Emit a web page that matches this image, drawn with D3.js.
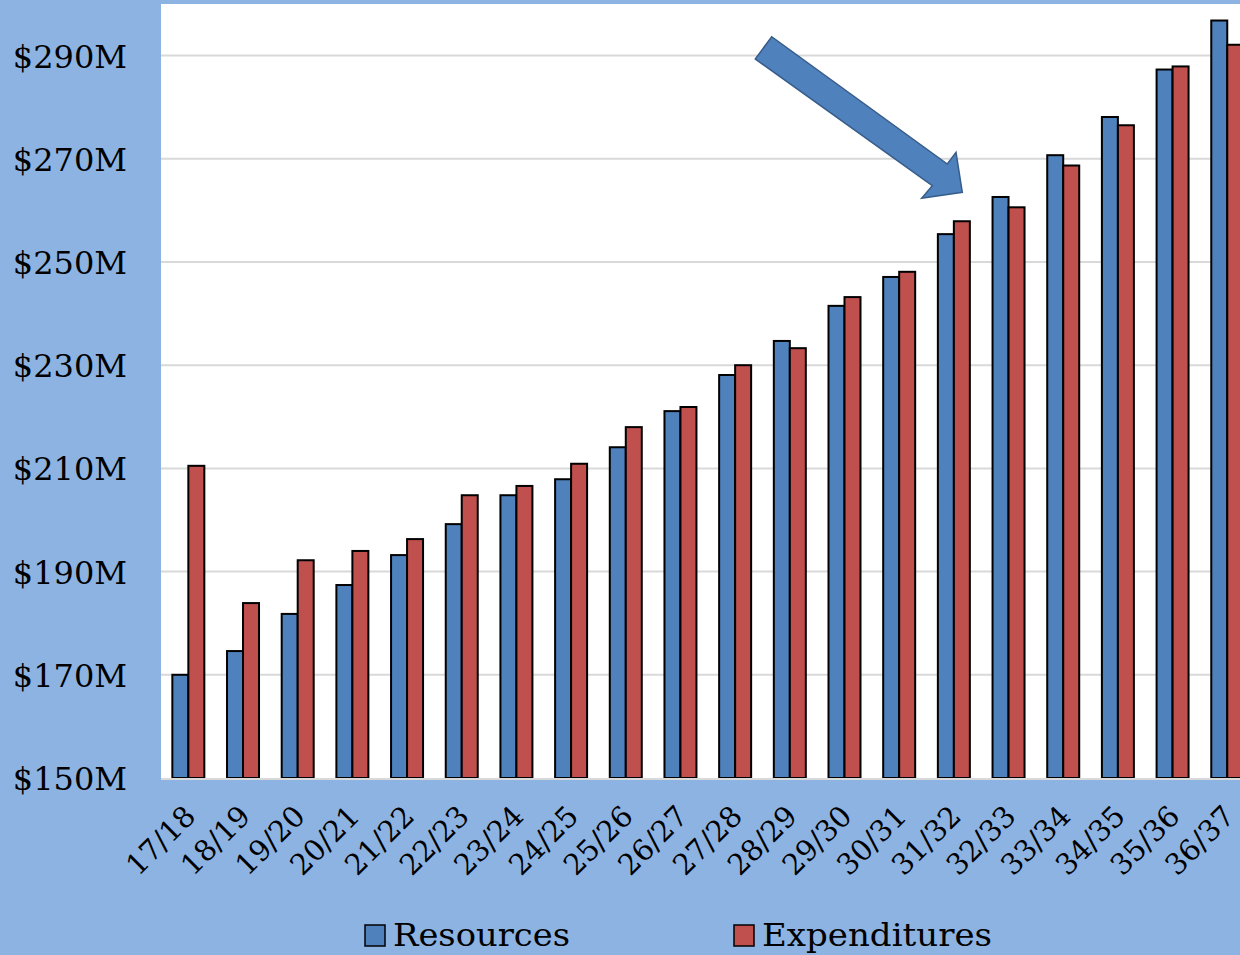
<!DOCTYPE html>
<html><head><meta charset="utf-8">
<script src="https://cdn.jsdelivr.net/npm/d3@7"></script>
<style>
html,body{margin:0;padding:0;background:#8DB3E2;overflow:hidden;}
svg{display:block;}
text{font-family:"DejaVu Serif",serif;fill:#000;}
</style></head>
<body>
<svg id="chart" width="1240" height="955"></svg>
<script>
const categories = ["17/18","18/19","19/20","20/21","21/22","22/23","23/24","24/25","25/26","26/27","27/28","28/29","29/30","30/31","31/32","32/33","33/34","34/35","35/36","36/37"];
const resources    = [170.0,174.6,181.8,187.4,193.2,199.2,204.8,207.9,214.1,221.1,228.1,234.7,241.5,247.1,255.4,262.6,270.7,278.1,287.3,296.8];
const expenditures = [210.5,183.9,192.2,194.0,196.3,204.8,206.6,210.9,218.0,221.9,230.0,233.3,243.2,248.1,257.9,260.6,268.7,276.5,287.9,292.1];
const seriesNames = ["Resources","Expenditures"];
const seriesColors = ["#4F81BD","#C0504D"];
const yTicks = [150,170,190,210,230,250,270,290];

const svg = d3.select("#chart");
const W = 1240, H = 955;
const plot = {left:161, top:4, right:1254.6, bottom:778};

svg.append("rect").attr("width",W).attr("height",H).attr("fill","#8DB3E2");
svg.append("rect").attr("x",plot.left).attr("y",plot.top)
  .attr("width",plot.right-plot.left).attr("height",plot.bottom-plot.top).attr("fill","#fff");

const x = d3.scaleBand().domain(categories).range([plot.left,plot.right])
  .paddingInner(0.415).paddingOuter(0.2075);
const xs = d3.scaleBand().domain(seriesNames).range([0,x.bandwidth()]).padding(0);
const y = d3.scaleLinear().domain([150,300]).range([plot.bottom,plot.top]);

// gridlines
svg.append("g").selectAll("line").data(yTicks.slice(1)).join("line")
  .attr("x1",plot.left).attr("x2",plot.right)
  .attr("y1",d=>y(d)).attr("y2",d=>y(d))
  .attr("stroke","#D9D9D9").attr("stroke-width",2);

// y axis labels
const yAxis = d3.axisLeft(y).tickValues(yTicks).tickFormat(d=>"$"+d+"M").tickSize(0).tickPadding(0);
const ya = svg.append("g").attr("transform",`translate(127,0)`).call(yAxis);
ya.select(".domain").remove();
ya.selectAll("text").attr("font-family","DejaVu Serif").attr("font-size",32).attr("dy","0.36em").attr("fill","#000");

// bars
const data = categories.map((c,i)=>({cat:c, vals:[resources[i],expenditures[i]]}));
const groups = svg.append("g").selectAll("g").data(data).join("g")
  .attr("transform",d=>`translate(${x(d.cat)},0)`);
groups.selectAll("rect").data(d=>d.vals.map((v,j)=>({v,s:seriesNames[j],c:seriesColors[j]}))).join("rect")
  .attr("x",d=>xs(d.s)).attr("width",xs.bandwidth())
  .attr("y",d=>y(d.v)).attr("height",d=>plot.bottom-y(d.v))
  .attr("fill",d=>d.c).attr("stroke","#000").attr("stroke-width",2);

// x axis line
svg.append("line").attr("x1",plot.left).attr("x2",plot.right)
  .attr("y1",plot.bottom+1).attr("y2",plot.bottom+1).attr("stroke","#D9D9D9").attr("stroke-width",2);

// x axis labels
const xAxis = d3.axisBottom(x).tickSize(0).tickPadding(0);
const xa = svg.append("g").attr("transform",`translate(0,${plot.bottom})`).call(xAxis);
xa.select(".domain").remove();
xa.selectAll("text").attr("font-family","DejaVu Serif").attr("font-size",29).attr("fill","#000")
  .attr("text-anchor","end").attr("dy",null).attr("y",0)
  .attr("transform","translate(9,40) rotate(-45)");

// arrow annotation
const arrowPts = [[755.3,59],[771.7,36.7],[947.3,164],[956,152.3],[962.3,192.3],[921.7,198.3],[932.3,185.7]];
svg.append("polygon").attr("points",arrowPts.map(p=>p.join(",")).join(" "))
  .attr("fill","#4F81BD").attr("stroke","#385D8A").attr("stroke-width",1.5);

// legend
const legend = svg.append("g");
const legX = [365,734];
const legW = [177,230];
seriesNames.forEach((s,i)=>{
  legend.append("rect").attr("x",legX[i]).attr("y",925).attr("width",20).attr("height",21)
    .attr("fill",seriesColors[i]).attr("stroke","#000").attr("stroke-width",1.5);
  legend.append("text").attr("x",legX[i]+28).attr("y",946).attr("font-size",32)
    .attr("textLength",legW[i]).attr("lengthAdjust","spacingAndGlyphs").text(s);
});
</script>
</body></html>
